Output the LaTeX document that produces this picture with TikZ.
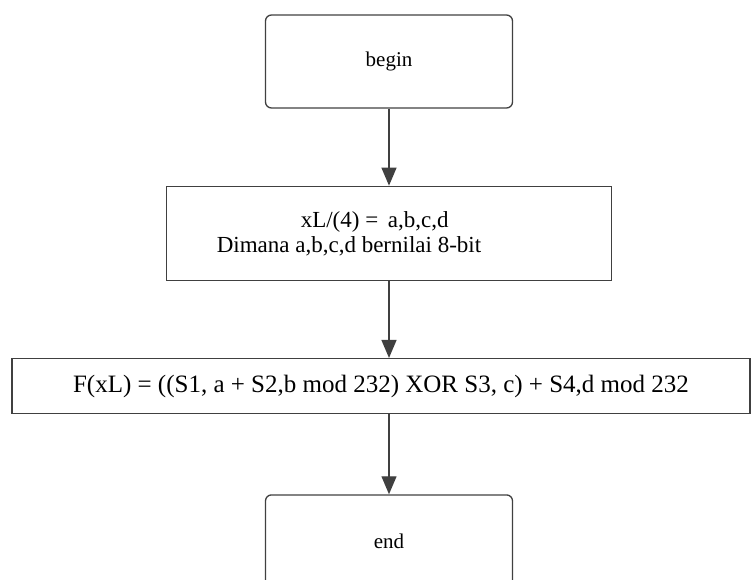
\documentclass[tikz,border=0pt]{standalone}
\usepackage{fontspec}
\setmainfont{Liberation Serif}
\usetikzlibrary{arrows.meta,positioning}
\tikzset{terminal/.style = {draw, rectangle, rounded corners = 6pt, minimum width = 247pt, minimum height = 93pt},
         process/.style = {draw, rectangle, minimum height = 94pt},
         flow/.style = {-{Triangle[length = 18pt, width = 15pt]}},
}

\begin{document}
\begin{tikzpicture}[x = 1pt, y = 1pt, node distance = 77pt, line width = 1.3pt, draw = black!75, font = \fontsize{21}{25}\selectfont]

  \useasboundingbox (0,0) rectangle (752,-580);

  \node[terminal] (begin) at (389,-61.5) {begin};
  \node[process, below = of begin, minimum width = 445pt, align = left, font = \fontsize{23}{25}\selectfont] (split)
    {\hspace*{84pt}xL/(4) =\, a,b,c,d\\Dimana a,b,c,d bernilai 8-bit\hspace*{80pt}};
  \node[process, below = of split, xshift = -8pt, minimum width = 738pt, minimum height = 55pt, font = \fontsize{25}{28}\selectfont] (fxl)
    {F(xL) = ((S1, a + S2,b mod 232) XOR S3, c) + S4,d mod 232};
  \node[terminal, below = 80pt of fxl, xshift = 8pt] (end) {end};

  \draw[flow] (begin) -- (split);
  \draw[flow] (split) -- (split |- fxl.north);
  \draw[flow] (split |- fxl.south) -- (end);

\end{tikzpicture}
\end{document}
